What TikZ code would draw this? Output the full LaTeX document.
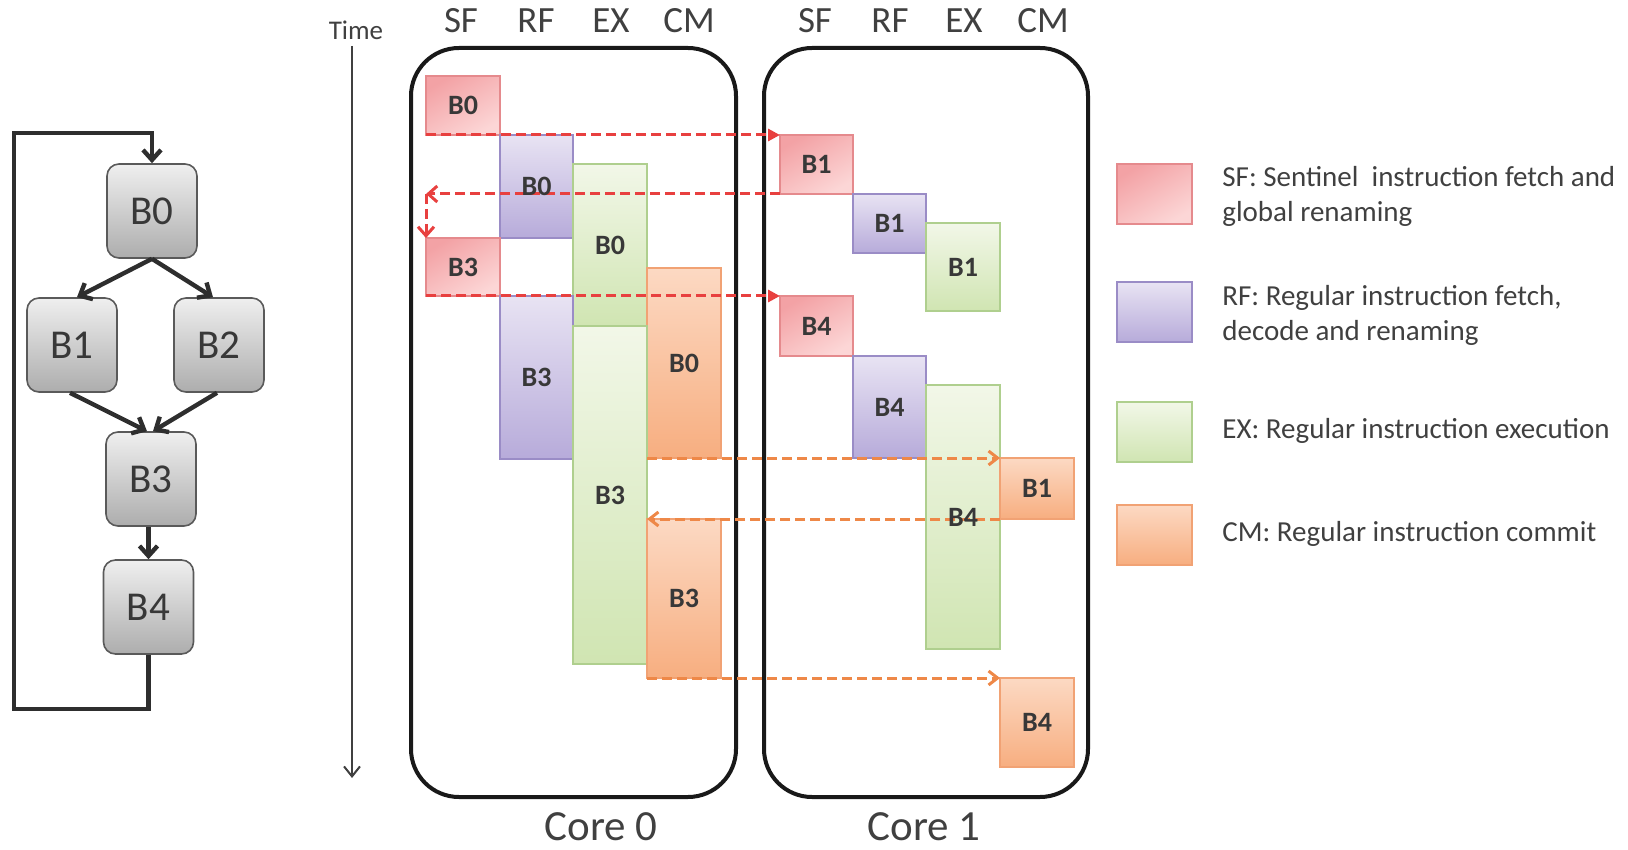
\documentclass[tikz,border=0pt]{standalone}
\usepackage{fontspec}
\setmainfont{Carlito}
\usetikzlibrary{arrows.meta,fit,calc}

% stage colours
\definecolor{sftop}{HTML}{F3A2A5}
\definecolor{sfbot}{HTML}{FCD6D6}
\definecolor{sfline}{HTML}{E58A8D}
\definecolor{rftop}{HTML}{E8E3F3}
\definecolor{rfbot}{HTML}{B7ABDA}
\definecolor{rfline}{HTML}{9A8CC6}
\definecolor{extop}{HTML}{F2F7E8}
\definecolor{exbot}{HTML}{D0E5B2}
\definecolor{exline}{HTML}{AFCF8E}
\definecolor{cmtop}{HTML}{FCD9C3}
\definecolor{cmbot}{HTML}{F7AE80}
\definecolor{cmline}{HTML}{F1A274}
% connectors and text
\definecolor{sfdash}{HTML}{E8403F}
\definecolor{cmdash}{HTML}{EE8848}
\definecolor{labtext}{HTML}{383838}
\definecolor{captext}{HTML}{404040}
\definecolor{flowline}{HTML}{2E2E2E}
\definecolor{fcedge}{HTML}{5A5A5A}
\definecolor{fctop}{HTML}{EFEFEF}
\definecolor{fcbot}{HTML}{ADADAD}

\tikzset{
  stage/.style={draw, line width=0.6pt, inner sep=0pt, outer sep=0pt},
  sfbox/.style={stage, draw=sfline, top color=sftop, bottom color=sfbot, shading angle=30},
  rfbox/.style={stage, draw=rfline, top color=rftop, bottom color=rfbot},
  exbox/.style={stage, draw=exline, top color=extop, bottom color=exbot},
  cmbox/.style={stage, draw=cmline, top color=cmtop, bottom color=cmbot},
  blabel/.style={font=\fontsize{14}{14}\selectfont\bfseries, text=labtext, inner sep=0pt},
  header/.style={font=\fontsize{18.5}{18.5}\selectfont, text=captext, inner sep=0pt},
  corebox/.style={draw=black!90, line width=2pt, rounded corners=24pt, inner sep=0pt},
  corelabel/.style={font=\fontsize{21.5}{21.5}\selectfont, text=captext, inner sep=0pt},
  legtext/.style={font=\fontsize{14.5}{17.5}\selectfont, text=captext, align=left, anchor=west, inner sep=0pt},
  fcbox/.style={draw=fcedge, line width=0.8pt, rounded corners=6pt, top color=fctop, bottom color=fcbot,
    minimum width=45pt, minimum height=47pt, inner sep=0pt,
    font=\fontsize{20.5}{20.5}\selectfont, text=labtext},
  flow/.style={draw=flowline, line width=2.2pt, -{Straight Barb[length=5pt,width=9pt]}},
  sfgo/.style={draw=sfdash, line width=1.5pt, dash pattern=on 5pt off 2.5pt, -{Triangle[length=6pt,width=6pt]}},
  sfback/.style={draw=sfdash, line width=1.5pt, dash pattern=on 5pt off 2.5pt, -{Straight Barb[length=4.5pt,width=8pt]}},
  cmgo/.style={draw=cmdash, line width=1.5pt, dash pattern=on 5pt off 2.5pt, -{Straight Barb[length=4.5pt,width=7pt]}},
  timeaxis/.style={draw=black!75, line width=1pt, -{Straight Barb[length=5pt,width=8pt]}}
}

% a pipeline stage box spanning two corners
\newcommand\stagebox[6]{\node[#2, fit={(#3,#4)(#5,#6)}] (#1) {};}

\begin{document}
\begin{tikzpicture}[x=0.5pt,y=-0.5pt]
\useasboundingbox (0,0) rectangle (1628,850);

% ---------------- control flow graph ----------------
\node[fcbox] (B0) at (152,211) {B0};
\node[fcbox] (B1) at (72,345) {B1};
\node[fcbox] (B2) at (219,345) {B2};
\node[fcbox] (B3) at (151,479) {B3};
\node[fcbox] (B4) at (148.5,607) {B4};
\coordinate (loopbl) at (14,709);
\coordinate (looptl) at (14,133);
\draw[flow] (B0.south) -- ([xshift=2.5pt]B1.north);
\draw[flow] (B0.south) -- ([xshift=-3pt]B2.north);
\draw[flow] ([xshift=-1pt]B1.south) -- ([xshift=-2pt]B3.north);
\draw[flow] ([xshift=-1pt]B2.south) -- ([xshift=1pt]B3.north);
\draw[flow] (B3.south -| B4.north) -- (B4.north);
\draw[flow] (B4.south) |- (loopbl) -- (looptl) -| (B0.north);

% ---------------- time axis ----------------
\node[font=\fontsize{13.5}{13.5}\selectfont, text=captext, inner sep=0pt] (time) at (356,30) {Time};
\coordinate (tend) at (352,778);
\draw[timeaxis] (time.south -| tend) ++(0,6) -- (tend);

% ---------------- cores ----------------
\node[corebox, fit={(411,48)(736,797)}] (core0) {};
\node[corebox, fit={(764,48)(1088,797)}] (core1) {};
\node[corelabel] (core0l) at (601,827) {Core 0};
\node[corelabel] (core1l) at (924,827) {Core 1};

\node[header] (h0sf) at (461,21) {SF};
\node[header] (h0rf) at (536,21) {RF};
\node[header] (h0ex) at (611,21) {EX};
\node[header] (h0cm) at (689,21) {CM};
\node[header] (h1sf) at (815,21) {SF};
\node[header] (h1rf) at (890,21) {RF};
\node[header] (h1ex) at (964,21) {EX};
\node[header] (h1cm) at (1043,21) {CM};

% core 0 stages
\stagebox{c0sf0}{sfbox}{426}{76}{500}{135}
\stagebox{c0rf0}{rfbox}{500}{135}{573}{238}
\stagebox{c0ex0}{exbox}{573}{164}{647}{326}
\stagebox{c0sf3}{sfbox}{426}{238}{500}{296}
\stagebox{c0rf3}{rfbox}{500}{296}{573}{459}
\stagebox{c0cm0}{cmbox}{647}{268}{721}{458}
\stagebox{c0ex3}{exbox}{573}{326}{647}{664}
\stagebox{c0cm3}{cmbox}{647}{519}{721}{678}

% core 1 stages
\stagebox{c1sf1}{sfbox}{780}{135}{853}{194}
\stagebox{c1rf1}{rfbox}{853}{194}{926}{253}
\stagebox{c1ex1}{exbox}{926}{223}{1000}{311}
\stagebox{c1sf4}{sfbox}{780}{296}{853}{356}
\stagebox{c1rf4}{rfbox}{853}{356}{926}{458}
\stagebox{c1ex4}{exbox}{926}{385}{1000}{649}
\stagebox{c1cm1}{cmbox}{1000}{458}{1074}{519}
\stagebox{c1cm4}{cmbox}{1000}{678}{1074}{767}

% sentinel hand-offs between the cores
\coordinate (sfturn) at (c0sf3.north west |- c1sf1.south west);
\draw[sfgo] (c0sf0.south west) -- (c1sf1.north west);
\draw[sfback] (c1sf1.south west) -- (sfturn);
\draw[sfback] (sfturn) -- (c0sf3.north west);
\draw[sfgo] (c0sf3.south west) -- (c1sf4.north west);

% commit hand-offs between the cores
\draw[cmgo] (c0cm0.south west) -- (c1cm1.north west);
\draw[cmgo] (c1cm1.south west) -- (c0cm3.north west);
\draw[cmgo] (c0cm3.south west) -- (c1cm4.north west);

% stage labels on top of the connectors
\foreach \n/\t in {c0sf0/B0, c0rf0/B0, c0ex0/B0, c0sf3/B3, c0rf3/B3, c0cm0/B0, c0ex3/B3, c0cm3/B3,
                   c1sf1/B1, c1rf1/B1, c1ex1/B1, c1sf4/B4, c1rf4/B4, c1ex4/B4, c1cm1/B1, c1cm4/B4}
  \node[blabel] (\n-t) at (\n.center) {\t};

% ---------------- legend ----------------
\stagebox{legsf}{sfbox}{1117}{164}{1192}{224}
\stagebox{legrf}{rfbox}{1117}{282}{1192}{342}
\stagebox{legex}{exbox}{1117}{402}{1192}{462}
\stagebox{legcm}{cmbox}{1117}{505}{1192}{565}
\node[legtext] (legsft) at (1222,196) {SF: Sentinel~ instruction fetch and\\global renaming};
\node[legtext] (legrft) at (1222,315) {RF: Regular instruction fetch,\\decode and renaming};
\node[legtext] (legext) at (1222,431) {EX: Regular instruction execution};
\node[legtext] (legcmt) at (1222,534) {CM: Regular instruction commit};
\end{tikzpicture}
\end{document}
